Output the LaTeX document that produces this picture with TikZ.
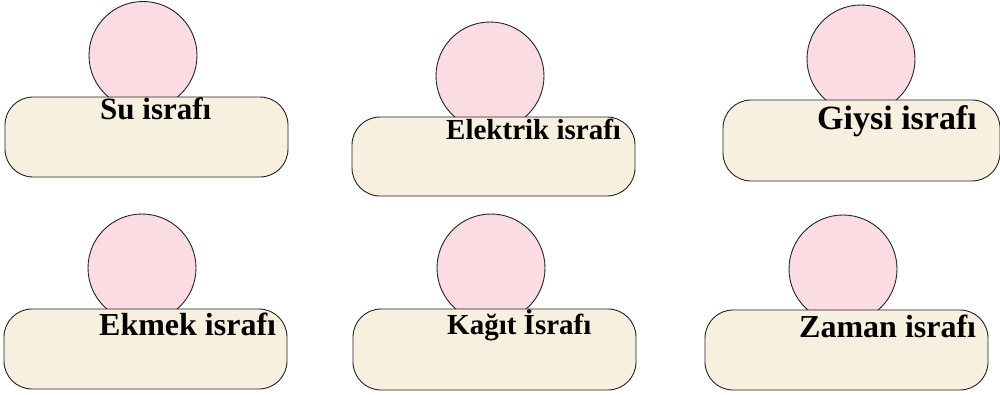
\documentclass[tikz,border=0pt]{standalone}
\usepackage{fontspec}
\setmainfont{Liberation Serif}
\definecolor{pinkfill}{HTML}{FCDCE3}
\definecolor{beigefill}{HTML}{F7F0DE}
\definecolor{edge}{HTML}{222222}
\begin{document}
\begin{tikzpicture}[x=1pt,y=-1pt,
  circ/.style={circle,draw=edge,line width=0.9pt,fill=pinkfill,inner sep=0pt,minimum size=108pt},
  pill/.style={rectangle,rounded corners=28pt,draw=edge,line width=0.9pt,fill=beigefill,inner sep=0pt,minimum width=283pt,minimum height=80pt},
  lbl/.style={anchor=base west,inner sep=0pt,font=\bfseries}]
\useasboundingbox (0,0) rectangle (1000,394);
% row 1
\node[circ] (c1) at (143,55.5) {};
\node[pill] (r1) at (146.5,137) {};
\node[lbl,font=\bfseries\fontsize{31}{31}\selectfont] (t1) at (100,119) {Su israfı};
\node[circ] (c2) at (490,76) {};
\node[pill,minimum height=79pt] (r2) at (493.5,156.5) {};
\node[lbl,font=\bfseries\fontsize{29}{29}\selectfont] (t2) at (446,139) {Elektrik israfı};
\node[circ] (c3) at (861,59) {};
\node[pill,minimum width=277pt,minimum height=81pt] (r3) at (861.5,140.5) {};
\node[lbl,font=\bfseries\fontsize{34}{34}\selectfont] (t3) at (817,129) {Giysi israfı};
% row 2
\node[circ] (c4) at (142,268) {};
\node[pill] (r4) at (145.5,349) {};
\node[lbl,font=\bfseries\fontsize{32}{32}\selectfont] (t4) at (99,335) {Ekmek israfı};
\node[circ] (c5) at (491,268) {};
\node[pill,minimum height=81pt] (r5) at (494.5,349.5) {};
\node[lbl,font=\bfseries\fontsize{29}{29}\selectfont] (t5) at (447,334) {Kağıt İsrafı};
\node[circ] (c6) at (843,269) {};
\node[pill] (r6) at (846.5,350) {};
\node[lbl,font=\bfseries\fontsize{32}{32}\selectfont] (t6) at (799,337) {Zaman israfı};
\end{tikzpicture}
\end{document}
